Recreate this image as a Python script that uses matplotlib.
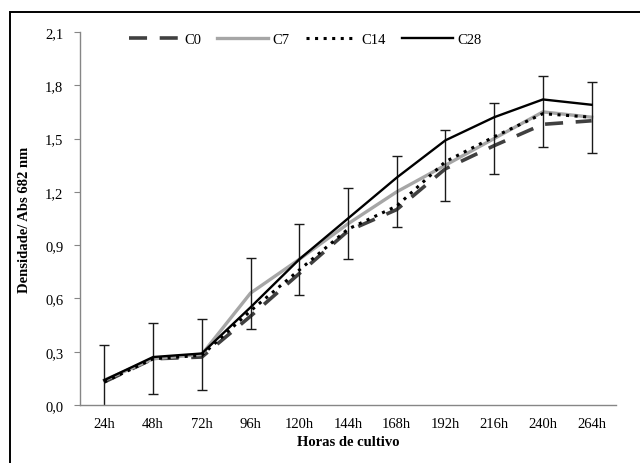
import matplotlib
matplotlib.use("Agg")
import matplotlib.pyplot as plt
from matplotlib.patches import Rectangle

plt.rcParams['font.family'] = ['Liberation Serif', 'DejaVu Serif']

horas = ["24h", "48h", "72h", "96h", "120h", "144h", "168h", "192h", "216h", "240h", "264h"]
c0 = [0.13, 0.26, 0.27, 0.50, 0.74, 0.98, 1.10, 1.33, 1.46, 1.58, 1.60]
c7 = [0.14, 0.26, 0.285, 0.63, 0.82, 1.02, 1.20, 1.35, 1.50, 1.65, 1.62]
c14 = [0.13, 0.26, 0.28, 0.53, 0.76, 0.99, 1.12, 1.37, 1.51, 1.64, 1.62]
c28 = [0.14, 0.27, 0.29, 0.55, 0.82, 1.05, 1.28, 1.49, 1.62, 1.72, 1.69]
erro = [0.2, 0.2, 0.2, 0.2, 0.2, 0.2, 0.2, 0.2, 0.2, 0.2, 0.2]
yticks = [0.0, 0.3, 0.6, 0.9, 1.2, 1.5, 1.8, 2.1]

x = list(range(len(horas)))

fig = plt.figure(figsize=(6.4, 4.64), dpi=100)
ax = fig.add_axes([0.125, 0.125, 0.8375, 0.804])

l0, = ax.plot(x, c0, color="#404040", lw=2.6, dashes=(5, 3.5), label="C0")
l7, = ax.plot(x, c7, color="#a6a6a6", lw=2.4, label="C7")
ax.errorbar(x, c7, yerr=erro, fmt="none", ecolor="#1a1a1a",
            elinewidth=1.0, capsize=3.5, capthick=1.0)
l14, = ax.plot(x, c14, color="black", lw=2.2, linestyle=(0, (1, 1.8)), label="C14")
l28, = ax.plot(x, c28, color="black", lw=1.7, label="C28")

ax.set_xlim(-0.5, 10.5)
ax.set_ylim(0, 2.1)
ax.set_xticks(x)
ax.set_xticklabels(horas, fontsize=10.5)
ax.set_yticks(yticks)
ax.set_yticklabels([f"{v:.1f}".replace(".", ",") for v in yticks], fontsize=10.5)
ax.tick_params(axis="x", length=0, pad=9)
ax.tick_params(axis="y", length=4, color="#868686", pad=8)

for side in ["top", "right"]:
    ax.spines[side].set_visible(False)
for side in ["left", "bottom"]:
    ax.spines[side].set_color("#868686")
    ax.spines[side].set_linewidth(1.0)

ax.set_xlabel("Horas de cultivo", fontsize=10.5, fontweight="bold", labelpad=3)
ax.set_ylabel("Densidade/ Abs 682 nm", fontsize=10.5, fontweight="bold", labelpad=10)

ax.legend(handles=[l0, l7, l14, l28], loc="center", bbox_to_anchor=(0.42, 0.981),
          ncol=4, frameon=False, fontsize=10.5, handlelength=3.5,
          handletextpad=0.3, columnspacing=1.1)

# outer frame
fig.patches.append(Rectangle((10 / 640, -0.1), 1.2, 1 - 13 / 464 + 0.1,
                             transform=fig.transFigure, fill=False,
                             edgecolor="black", lw=1.4))

fig.savefig("out.png", dpi=100)
